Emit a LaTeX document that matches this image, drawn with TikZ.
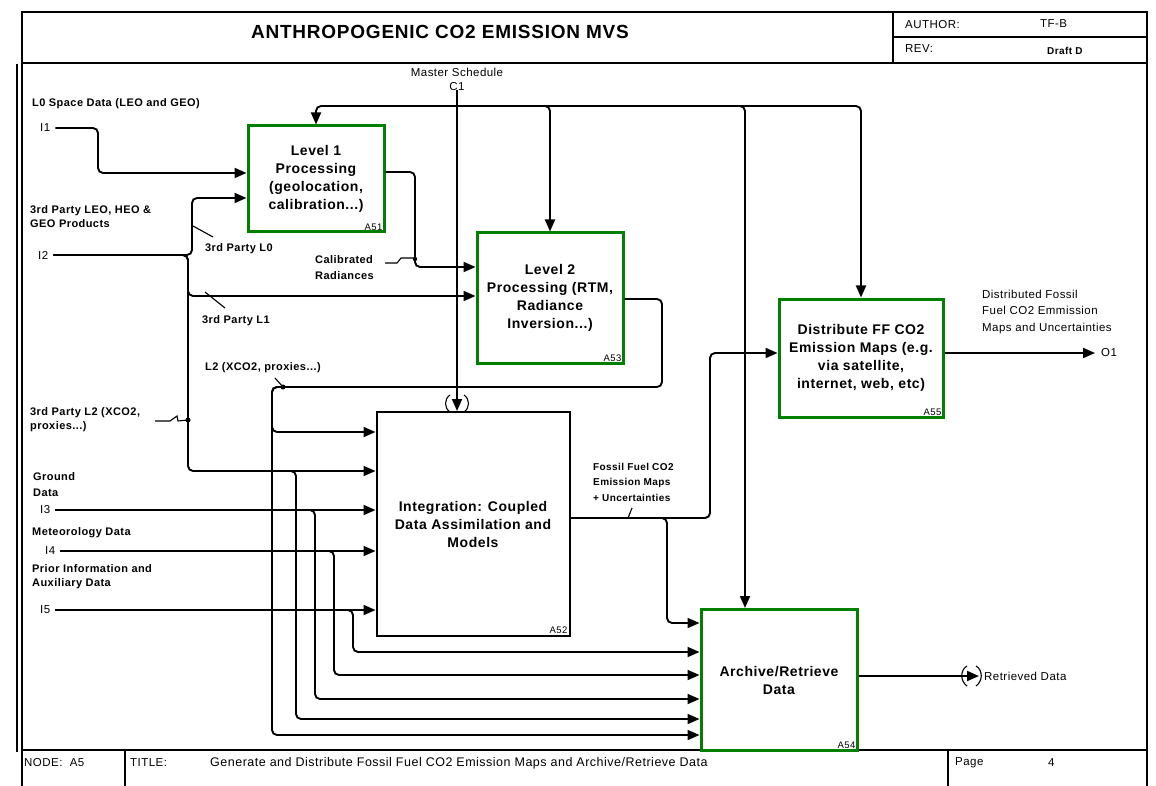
\documentclass[tikz,border=0pt]{standalone}
\usepackage{fontspec}
\setmainfont[LetterSpace=4]{Liberation Sans}
\usetikzlibrary{arrows.meta,positioning,calc}
\definecolor{boxgreen}{RGB}{0,128,0}

\begin{document}
\begin{tikzpicture}[
        x=1pt, y=-1pt,
        proc/.style={draw=boxgreen, line width=3pt, fill=white, align=center,
            font=\fontsize{14}{18}\selectfont\bfseries, inner sep=0pt},
        plainproc/.style={proc, draw=black, line width=2pt},
        boxid/.style={font=\fontsize{9.5}{10}\selectfont, anchor=south east, inner sep=3pt},
        arr/.style={-{Triangle[length=12pt,width=10pt]}, line width=1.9pt, rounded corners=5pt},
        wire/.style={line width=1.9pt, rounded corners=5pt},
        lead/.style={line width=1.1pt},
        lbl/.style={font=\fontsize{11}{14}\selectfont\bfseries, align=left, anchor=west, inner sep=0pt},
        txt/.style={font=\fontsize{11.5}{14}\selectfont, align=left, anchor=west, inner sep=0pt},
        frame/.style={line width=2.6pt},
    ]
        \useasboundingbox (0,0) rectangle (1156,786);

        % Header
        \draw[frame] (22,12) rectangle (1147,63);
        \draw[frame] (893,12) -- (893,63);
        \draw[frame] (893,37) -- (1147,37);
        \node[font=\fontsize{19}{22}\selectfont\bfseries] (title) at (440,32) {ANTHROPOGENIC CO2 EMISSION MVS};
        \node[txt] (authorlbl) at (905,25) {AUTHOR:};
        \node[txt] (author) at (1040,24) {TF-B};
        \node[txt, font=\fontsize{10}{12}\selectfont\bfseries] (rev) at (1047,51) {Draft D};
        \node[txt] (revlbl) at (905,49) {REV:};

        % Frame and footer
        \draw[frame] (22,63) rectangle (1147,750);
        \draw[line width=1.6pt] (17,64) -- (17,752);
        \foreach \w in {22,125,948,1147} {
            \draw[frame] (\w,750) -- (\w,786);
        }
        \node[txt] (nodeid) at (24,763) {NODE:\ \ A5};
        \node[txt] (titlelbl) at (130,763) {TITLE:};
        \node[txt, font=\fontsize{12.5}{14}\selectfont] (titletxt) at (210,763) {Generate and Distribute Fossil Fuel CO2 Emission Maps and Archive/Retrieve Data};
        \node[txt] (pagelbl) at (955,763) {Page};
        \node[txt] (pagenum) at (1048,763) {4};

        % Activity boxes
        \node[proc, minimum width=136, minimum height=106] (A51) at (316,179)
            {Level 1\\Processing\\(geolocation,\\calibration...)};
        \node[proc, minimum width=146, minimum height=130] (A53) at (550,298)
            {Level 2\\Processing (RTM,\\Radiance\\Inversion...)};
        \node[proc, minimum width=164, minimum height=118] (A55) at (861,358)
            {Distribute FF CO2\\Emission Maps (e.g.\\via satellite,\\internet, web, etc)};
        \node[plainproc, minimum width=193, minimum height=224] (A52) at (473,524)
            {Integration: Coupled\\Data Assimilation and\\Models};
        \node[proc, minimum width=156, minimum height=141] (A54) at (779,680)
            {Archive/Retrieve\\Data};
        \foreach \b in {A51,A53,A55,A52,A54} {
            \node[boxid] (\b id) at (\b.south east) {\b};
        }

        % Inputs
        \node[lbl] (l0lbl) at (32,104) {L0 Space Data (LEO and GEO)};
        \node[txt] (I1) at (40,128) {I1};
        \node[lbl] (tplbl) at (30,217) {3rd Party LEO, HEO \&\\GEO Products};
        \node[txt] (I2) at (38,255) {I2};
        \node[lbl] (tpl0) at (205,249) {3rd Party L0};
        \node[lbl, font=\fontsize{11}{16}\selectfont\bfseries] (calrad) at (315,268) {Calibrated\\Radiances};
        \node[lbl] (tpl1) at (202,321) {3rd Party L1};
        \node[lbl] (l2lbl) at (205,368) {L2 (XCO2, proxies...)};
        \node[lbl] (tpl2) at (30,420) {3rd Party L2 (XCO2,\\proxies...)};
        \node[lbl, font=\fontsize{11}{16}\selectfont\bfseries] (gndlbl) at (33,485) {Ground\\Data};
        \node[txt] (I3) at (40,510) {I3};
        \node[lbl] (metlbl) at (32,533) {Meteorology Data};
        \node[txt] (I4) at (45,551) {I4};
        \node[lbl] (prilbl) at (32,577) {Prior Information and\\Auxiliary Data};
        \node[txt] (I5) at (40,610) {I5};

        % Control
        \node[txt, align=center, anchor=center] (C1) at (457,79) {Master Schedule\\C1};

        % Outputs
        \node[txt, font=\fontsize{11.5}{16.5}\selectfont] (o1lbl) at (982,312)
            {Distributed Fossil\\Fuel CO2 Emmission\\Maps and Uncertainties};
        \node[txt] (O1) at (1101,353) {O1};
        \node[txt] (rd) at (984,676) {Retrieved Data};
        \node[lbl, font=\fontsize{10}{15.5}\selectfont\bfseries] (fflbl) at (593,482)
            {Fossil Fuel CO2\\Emission Maps\\+ Uncertainties};

        % Input connectors
        \draw[arr] ([xshift=5pt]I1.east) -- (98,128) -- (98,173) -- (A51.west |- 0,173);
        \draw[arr] ([xshift=5pt]I2.east) -- (192,255) -- (192,198) -- (A51.west |- 0,198);
        \draw[arr] ([xshift=5pt]I2.east) -- (188,255) -- (188,296) -- (A53.west |- 0,296);
        \draw[arr] ([xshift=5pt]I2.east) -- (188,255) -- (188,471) -- (A52.west |- 0,471);
        \draw[arr] ([xshift=5pt]I3.east) -- (A52.west |- I3);
        \draw[arr] ([xshift=5pt]I4.east) -- (A52.west |- I4);
        \draw[arr] ([xshift=5pt]I5.east) -- (A52.west |- I5);

        % Feeds to archive
        \draw[arr] (280,471) -- (296,471) -- (296,719) -- (A54.west |- 0,719);
        \draw[arr] (300,510) -- (315,510) -- (315,699) -- (A54.west |- 0,699);
        \draw[arr] (320,551) -- (334,551) -- (334,675) -- (A54.west |- 0,675);
        \draw[arr] (340,610) -- (353,610) -- (353,652) -- (A54.west |- 0,652);

        % Control connectors
        \draw[arr] (C1.south) -- (C1.south |- A52.north);
        \draw[arr] (457,106) -- (A51.north |- 0,106) -- (A51.north);
        \draw[arr] (457,106) -- (A53.north |- 0,106) -- (A53.north);
        \draw[arr] (457,106) -- (745,106) -- (745,0 |- A54.north);
        \draw[arr] (457,106) -- (A55.north |- 0,106) -- (A55.north);
        \draw[lead] (450,395) .. controls (444,399) and (444,408) .. (450,412);
        \draw[lead] (464,395) .. controls (470,399) and (470,408) .. (464,412);

        % Internal connectors
        \draw[arr] (A51.east |- 0,172) -- (415,172) -- (415,267) -- (A53.west |- 0,267);
        \draw[wire] (A53.east |- 0,299) -- (662,299) -- (662,387) -- (283,387);
        \draw[arr] (283,387) -- (272,387) -- (272,432) -- (A52.west |- 0,432);
        \draw[arr] (283,387) -- (272,387) -- (272,735) -- (A54.west |- 0,735);
        \draw[arr] (A52.east |- 0,518) -- (667,518) -- (667,623) -- (A54.west |- 0,623);
        \draw[arr] (A52.east |- 0,518) -- (710,518) -- (710,353) -- (A55.west |- 0,353);
        \draw[arr] (A55.east |- 0,353) -- ([xshift=-6pt]O1.west);
        \draw[arr] (A54.east |- 0,676) -- ([xshift=-5pt]rd.west);
        \draw[lead] (967,666) .. controls (960,670) and (960,681) .. (967,686);
        \draw[lead] (976,666) .. controls (983,670) and (983,681) .. (976,686);

        % Label leaders
        \draw[lead] (193,226) -- (213,237);
        \draw[lead] (205,292) -- (225,308);
        \draw[lead] (385,263) -- (397,263) -- (401,258) -- (415,258);
        \fill (415,259) circle (2.2);
        \draw[lead] (275,378) -- (283,387);
        \fill (283,387) circle (2.5);
        \draw[lead] (155,421) -- (170,421) -- (177,416) -- (178,421) -- (188,420);
        \fill (188,420) circle (2.5);
        \draw[lead] (628,518) -- (632,508);
    \end{tikzpicture}
\end{document}
